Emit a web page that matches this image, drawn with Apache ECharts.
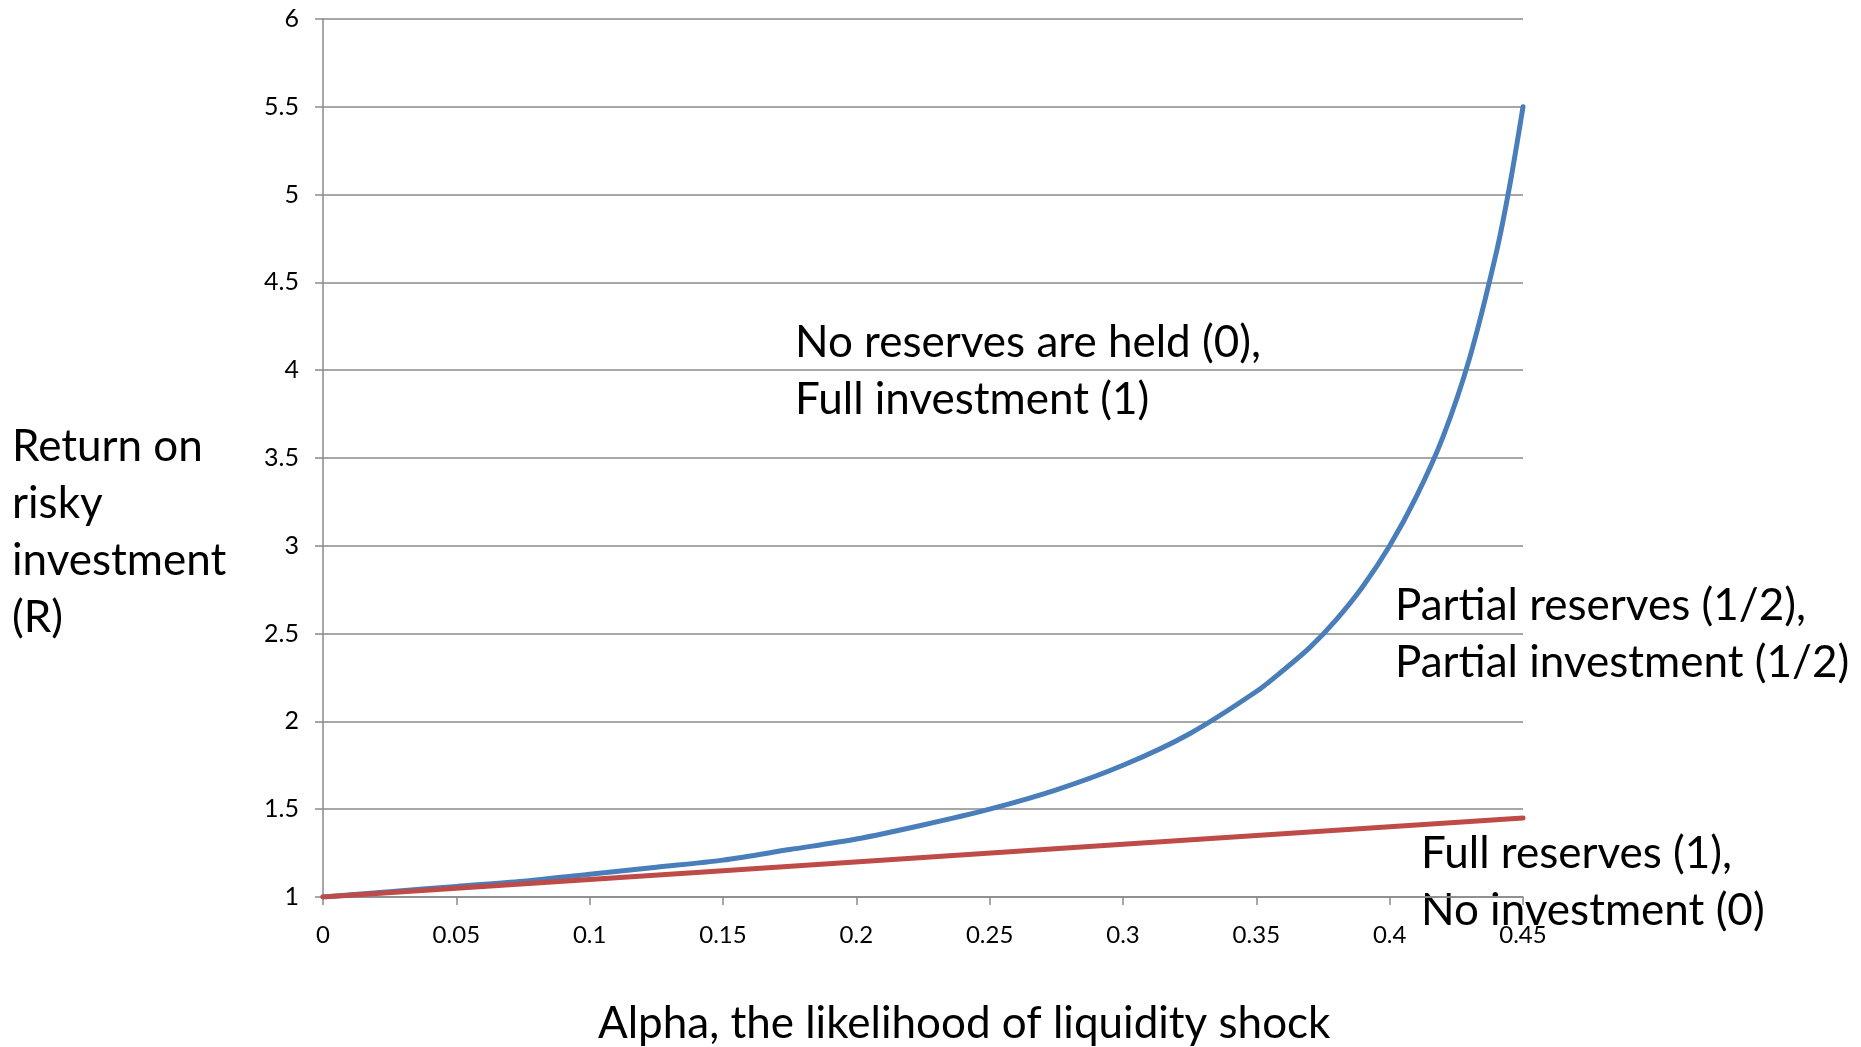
<!DOCTYPE html>
<html>
<head>
<meta charset="utf-8">
<script src="https://cdn.jsdelivr.net/npm/echarts@6/dist/echarts.min.js"></script>
<style>
  html, body { margin: 0; padding: 0; background: #fff; }
  #chart { width: 1861px; height: 1047px; }
</style>
</head>
<body>
<div id="chart"></div>
<script>
// alpha values read along the x axis
const alphaFull = [0, 0.025, 0.05, 0.075, 0.1, 0.125, 0.15, 0.175, 0.2, 0.225, 0.25, 0.275, 0.3, 0.325, 0.35,
  0.36, 0.37, 0.38, 0.39, 0.4, 0.41, 0.42, 0.43, 0.44, 0.445, 0.45]
// blue curve: no reserves, full investment
const returnNoReserves = [1, 1.03, 1.06, 1.09, 1.13, 1.17, 1.21, 1.27, 1.33, 1.41, 1.5, 1.61, 1.75, 1.93, 2.17,
  2.29, 2.42, 2.58, 2.77, 3, 3.28, 3.62, 4.07, 4.67, 5.05, 5.5]
// red line: full reserves, no investment
const alphaReserves = [0, 0.15, 0.3, 0.45]
const returnFullReserves = [1, 1.15, 1.3, 1.45]

const xTicks = { min: 0, max: 0.45, step: 0.05 }
const yTicks = { min: 1, max: 6, step: 0.5 }

const zip = (xs, ys) => xs.map((x, i) => [x, ys[i]])

const font = 'Lato, "Open Sans", sans-serif'
const bigFont = '44px ' + font
const gridColor = '#8a8a8a'

const chart = echarts.init(document.getElementById('chart'))
const option = {
  backgroundColor: '#fff',
  animation: false,
  textStyle: { fontFamily: font },
  grid: { left: 323, right: 338, top: 19, bottom: 150, containLabel: false },
  xAxis: {
    type: 'value',
    min: xTicks.min,
    max: xTicks.max,
    interval: xTicks.step,
    axisLine: { show: true, onZero: false, lineStyle: { color: gridColor, width: 1.5 } },
    axisTick: { show: true, length: 8, lineStyle: { color: gridColor, width: 1.5 } },
    axisLabel: { color: '#000', fontSize: 24, fontFamily: font, margin: 26 },
    splitLine: { show: false }
  },
  yAxis: {
    type: 'value',
    min: yTicks.min,
    max: yTicks.max,
    interval: yTicks.step,
    axisLine: { show: true, onZero: false, lineStyle: { color: gridColor, width: 1.5 } },
    axisTick: { show: true, length: 8, lineStyle: { color: gridColor, width: 1.5 } },
    axisLabel: { color: '#000', fontSize: 25, fontFamily: font, margin: 24 },
    splitLine: { show: true, lineStyle: { color: gridColor, width: 1.5 } }
  },
  series: [
    {
      name: 'No reserves',
      type: 'line',
      data: zip(alphaFull, returnNoReserves),
      smooth: 0.3,
      showSymbol: false,
      lineStyle: { color: '#4a7ebb', width: 5, cap: 'round' }
    },
    {
      name: 'Full reserves',
      type: 'line',
      data: zip(alphaReserves, returnFullReserves),
      showSymbol: false,
      lineStyle: { color: '#be4b48', width: 5, cap: 'round' }
    }
  ],
  graphic: [
    {
      type: 'text', left: 12, top: 418,
      style: { text: 'Return on\nrisky\ninvestment\n(R)', font: bigFont, lineHeight: 57, fill: '#000' }
    },
    {
      type: 'text', left: 598, top: 1002,
      style: { text: 'Alpha, the likelihood of liquidity shock', font: bigFont, fill: '#000' }
    },
    {
      type: 'text', left: 795, top: 314,
      style: { text: 'No reserves are held (0),\nFull investment (1)', font: bigFont, lineHeight: 57, fill: '#000' }
    },
    {
      type: 'text', left: 1395, top: 577,
      style: { text: 'Partial reserves (1/2),\nPartial investment (1/2)', font: bigFont, lineHeight: 57, fill: '#000' }
    },
    {
      type: 'text', left: 1421, top: 825,
      style: { text: 'Full reserves (1),\nNo investment (0)', font: bigFont, lineHeight: 57, fill: '#000' }
    }
  ]
}
chart.setOption(option)
</script>
</body>
</html>
